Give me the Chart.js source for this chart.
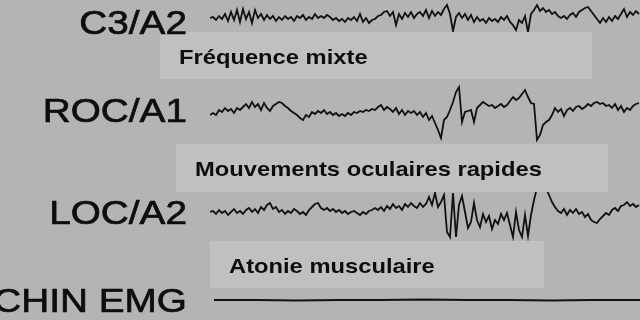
<!DOCTYPE html>
<html>
<head>
<meta charset="utf-8">
<script src="https://cdn.jsdelivr.net/npm/chart.js@4.4.1/dist/chart.umd.min.js"></script>
<style>
  html, body { margin: 0; padding: 0; background: #b4b4b4; }
  canvas { display: block; }
</style>
</head>
<body>
<canvas id="eeg" width="640" height="320"></canvas>
<script>
// Channel names, top to bottom, and where each baseline sits on the y axis
const channels = ['C3/A2', 'ROC/A1', 'LOC/A2', 'CHIN EMG'];
const offsets = [0, -88, -190, -278];

// Sample spacing (x units) for the EEG/EOG traces and for the chin EMG
const step = 3;
const chinStart = 4;
const chinStep = 42;

// Trace values, deviation from baseline (up is positive)
const c3 = [
  4, 5, 2, 6, 3, 8, 1, 10, 2, 12,
  0, 13, 3, 10, -1, 12, 4, 8, 2, 7,
  3, 6, 1, 5, 2, 6, 3, 5, 1, 6,
  4, 7, 2, 5, 3, 8, 4,
  6, 4, 7, 5, 2, 4, 1, 3, 0, 4,
  2, 5, 1, 8, 0, 4, -1, 2, 3, 6,
  7, 10, 11, 6, 10, -3, 8, 3, 9, 5,
  10, 4, 8, 10, 6, 12, 4, 11, 6, 10,
  7, 13, 17, 8, -9, 5, 9, 4, 8, 2,
  7, 0, 5, 1, 3, -1, 4, 1, 3, 0,
  5, 2, 6, 0, -3, -8, 2, -1, 6, -10,
  8, 12, 17, 11, 14, 10, 12, 8, 10, 6,
  4, 6, 3, 7, 9, 5, 10, 12, 14, 15,
  11, 7, 3, -1, 4, 0, 5, 1, 6, 3,
  8, 13, 5, 10, 7, 11, 8
];

const roc = [
  -5, -3, -5, 0, -2, 2, -1, 1, -3, 2,
  0, 3, 6, 2, 8, 3, 6, 0, 7, 2,
  -1, 4, 6, 8, 7, 4, 2, -1, -3, -5,
  -8, -10, -5, -7, -2, -4, -1, -3, 0, -4,
  -2, -5, -3, -6, -4, -6, -3, -5, -2, -3,
  -1, -2, 0, -1, 1, 0, 3, 5, 0, 3,
  1, -2, 2, -4, 0, -5, -1, -3, -1, -5,
  -2, -7, -3, -10, -6, -13, -20, -28, -10, -7,
  0, 8, 18, 23, -12, -2, -1, 0, -12, 2,
  5, 8, 6, 4, 5, 2, 4, 6, 3, 5,
  9, 13, 10, 12, 16, 20, 13, 7, 6, -30,
  -25, -15, -12, -10, -5, 2, -2, 1, -6, 0,
  2, -1, 3, 4, 1, 3, 6, 4, 7, 8,
  6, 7, 4, 5, 2, 6, 0, 4, -2, 2,
  0, 4, 6, 7
];

const loc = [
  0, 1, -2, 2, -1, 1, -3, 0, 3, -1,
  1, -2, 2, 4, 0, 3, -1, 5, 2, 7,
  9, 3, 5, 0, 2, -2, 1, -1, 3, 1,
  -2, 0, -3, 2, 5, 8, 9, 4, 2, 4,
  1, 3, 0, 2, -1, 1, -2, 0, 1, -1,
  -3, 0, -2, 1, 2, 4, 2, 5, 1, 6,
  3, 8, 4, 6, 2, 8, 5, 9, 6, 4,
  9, 5, 8, 15, 7, 19, 5, 10, 17, -20,
  -25, 19, -25, 7, 16, 0, -16, -10, 9, -8,
  -15, -2, -10, -4, -17, -8, -12, -2, -8, -1,
  -13, -25, 0, -18, -25, -3, -24, -3, 12, 24,
  34, 32, 24, 17, 10, 5, 1, -1, 3, -3,
  2, -1, 3, -2, 0, -5, -2, -8, -10, -11,
  -7, -4, -1, -3, 2, 4, 1, 6, 7, 10,
  6, 8, 5, 7
];

const chin = [0, 0, -0.5, 0, 0, 0.5, 0, 0, -0.5, 0, 0, 0];

// Text boxes laid over the traces
const notes = ['Fréquence mixte', 'Mouvements oculaires rapides', 'Atonie musculaire'];
const noteX = [[-50, 382], [-34, 398], [0, 334]];
const noteY = [[-10, -57], [-122, -170], [-219, -266]];

function toPoints(vals, x0, dx, off) {
  return vals.map((v, i) => ({ x: x0 + i * dx, y: off + v }));
}

// draws the light boxes and their bold captions on top of the traces
const noteBoxes = {
  id: 'noteBoxes',
  afterDatasetsDraw(chart) {
    const ctx = chart.ctx;
    const x = chart.scales.x;
    const y = chart.scales.y;
    ctx.save();
    notes.forEach((txt, i) => {
      const left = x.getPixelForValue(noteX[i][0]);
      const right = x.getPixelForValue(noteX[i][1]);
      const top = y.getPixelForValue(noteY[i][0]);
      const bottom = y.getPixelForValue(noteY[i][1]);
      ctx.fillStyle = '#c0c0c0';
      ctx.fillRect(left, top, right - left, bottom - top);
      ctx.save();
      ctx.fillStyle = '#0d0d0d';
      ctx.font = 'bold 21px "Liberation Sans", Arial, sans-serif';
      ctx.textAlign = 'left';
      ctx.textBaseline = 'alphabetic';
      ctx.translate(left + 19, (top + bottom) / 2 + 8);
      ctx.scale(1.13, 1);
      ctx.fillText(txt, 0, 0);
      ctx.restore();
    });
    ctx.restore();
  }
};

// channel names drawn at the y axis ticks (slightly wide, heavy lettering)
const channelLabels = {
  id: 'channelLabels',
  afterDraw(chart) {
    const ctx = chart.ctx;
    const yAxis = chart.scales.y;
    ctx.save();
    ctx.fillStyle = '#0d0d0d';
    ctx.strokeStyle = '#0d0d0d';
    ctx.lineWidth = 0.7;
    ctx.font = '34px "Liberation Sans", Arial, sans-serif';
    ctx.textAlign = 'right';
    ctx.textBaseline = 'alphabetic';
    yAxis.ticks.forEach(t => {
      const py = yAxis.getPixelForValue(t.value);
      const name = channels[offsets.indexOf(t.value)];
      ctx.save();
      ctx.translate(yAxis.right - 23, py + 12);
      ctx.scale(1.14, 1);
      ctx.fillText(name, 0, 0);
      ctx.strokeText(name, 0, 0);
      ctx.restore();
    });
    ctx.restore();
  }
};

const traceStyle = { borderColor: '#111', borderWidth: 1.8, pointRadius: 0, tension: 0, fill: false };

new Chart(document.getElementById('eeg'), {
  type: 'line',
  data: {
    datasets: [
      { label: channels[0], data: toPoints(c3, 0, step, offsets[0]), ...traceStyle },
      { label: channels[1], data: toPoints(roc, 0, step, offsets[1]), ...traceStyle },
      { label: channels[2], data: toPoints(loc, 0, step, offsets[2]), ...traceStyle },
      { label: channels[3], data: toPoints(chin, chinStart, chinStep, offsets[3]), ...traceStyle }
    ]
  },
  options: {
    responsive: false,
    animation: false,
    devicePixelRatio: 1,
    layout: { padding: 0 },
    plugins: {
      legend: { display: false },
      tooltip: { enabled: false }
    },
    scales: {
      x: { type: 'linear', min: 0, max: 430, display: false },
      y: {
        type: 'linear',
        min: -298,
        max: 22,
        grid: { display: false },
        border: { display: false },
        ticks: { display: false },
        afterBuildTicks(scale) {
          scale.ticks = offsets.map(v => ({ value: v }));
        },
        afterFit(scale) {
          scale.width = 210;
          scale.paddingTop = 0;
          scale.paddingBottom = 0;
        }
      }
    }
  },
  plugins: [noteBoxes, channelLabels]
});
</script>
</body>
</html>
